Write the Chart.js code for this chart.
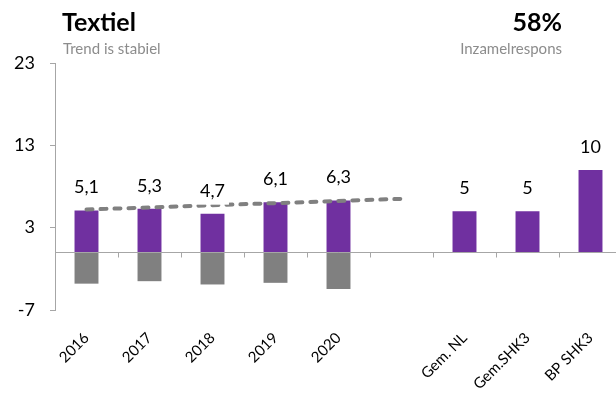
<!DOCTYPE html>
<html lang="nl">
<head>
<meta charset="utf-8">
<title>Textiel</title>
<script src="https://cdn.jsdelivr.net/npm/chart.js@4.4.1/dist/chart.umd.min.js"></script>
<style>
  html, body { margin: 0; padding: 0; overflow: hidden; background: #fff; }
  #wrap { position: relative; width: 640px; height: 400px; }
  .txt { position: absolute; font-family: Lato, "Noto Sans", sans-serif; white-space: nowrap; }
  .big { font-size: 25px; line-height: 25px; font-weight: bold; color: #000; }
  .small { font-size: 15px; line-height: 15px; color: #8c8c8c; }
  .right { left: 0; width: 562px; text-align: right; }
</style>
</head>
<body>
<div id="wrap">
  <canvas id="chart"></canvas>
  <div class="txt big" style="left:62px;top:9px">Textiel</div>
  <div class="txt small" style="left:63px;top:41px">Trend is stabiel</div>
  <div class="txt big right" style="top:9px">58%</div>
  <div class="txt small right" style="top:41px">Inzamelrespons</div>
</div>
<script>
(function (global) {
  'use strict';

  // categorieën en waarden
  var CATEGORIES = ['2016', '2017', '2018', '2019', '2020', '', 'Gem. NL', 'Gem.SHK3', 'BP SHK3'];
  var SCORES = [5.1, 5.3, 4.7, 6.1, 6.3, null, 5, 5, 10];
  var NEGATIVES = [-3.8, -3.5, -3.9, -3.7, -4.45, null, null, null, null];
  var TREND = [5.2, null, null, null, null, 6.5, null, null, null];
  var Y_TICKS = [-7, 3, 13, 23];

  var PURPLE = '#7030a0';
  var GREY = '#808080';
  var AXIS = '#a6a6a6';
  var FONT = 'Lato, "Noto Sans", sans-serif';

  function fmtValue(v) {
    return String(v).replace('.', ',');
  }

  // nullijn met streepjes tussen de categorieën
  var zeroLine = {
    id: 'zeroLine',
    afterDatasetsDraw: function (chart) {
      var ctx = chart.ctx;
      var xs = chart.scales.x;
      var ys = chart.scales.y;
      var area = chart.chartArea;
      var y0 = Math.round(ys.getPixelForValue(0)) + 0.5;
      ctx.save();
      ctx.strokeStyle = AXIS;
      ctx.lineWidth = 1;
      ctx.beginPath();
      ctx.moveTo(area.left, y0);
      ctx.lineTo(area.right, y0);
      for (var i = 1; i < CATEGORIES.length; i++) {
        var x = Math.round((xs.getPixelForValue(i - 1) + xs.getPixelForValue(i)) / 2) + 0.5;
        ctx.moveTo(x, y0);
        ctx.lineTo(x, y0 + 5);
      }
      ctx.stroke();
      ctx.restore();
    }
  };

  // waardelabels boven de paarse staven
  var valueLabels = {
    id: 'valueLabels',
    afterDatasetsDraw: function (chart) {
      var ctx = chart.ctx;
      var meta = chart.getDatasetMeta(0);
      ctx.save();
      ctx.font = '18px ' + FONT;
      ctx.textAlign = 'center';
      ctx.textBaseline = 'alphabetic';
      meta.data.forEach(function (el, i) {
        var v = SCORES[i];
        if (v === null || v === undefined) return;
        var text = fmtValue(v);
        var base = el.y - 17;
        var w = ctx.measureText(text).width;
        ctx.fillStyle = '#fff';
        ctx.fillRect(el.x - w / 2 - 4, base - 18, w + 8, 26);
        ctx.fillStyle = '#000';
        ctx.fillText(text, el.x, base);
      });
      ctx.restore();
    }
  };

  var canvas = document.getElementById('chart');
  new Chart(canvas.getContext('2d'), {
    data: {
      labels: CATEGORIES,
      datasets: [
        {
          type: 'bar',
          data: SCORES,
          backgroundColor: PURPLE,
          barPercentage: 0.38,
          categoryPercentage: 1,
          order: 2
        },
        {
          type: 'bar',
          data: NEGATIVES,
          backgroundColor: GREY,
          barPercentage: 0.38,
          categoryPercentage: 1,
          order: 3
        },
        {
          type: 'line',
          data: TREND,
          borderColor: GREY,
          borderWidth: 4,
          borderDash: [6, 8],
          borderCapStyle: 'round',
          spanGaps: true,
          pointRadius: 0,
          fill: false,
          order: 1
        }
      ]
    },
    options: {
      responsive: true,
      maintainAspectRatio: false,
      animation: false,
      events: [],
      layout: { padding: { top: 63, right: 18, bottom: 0, left: 0 } },
      plugins: { legend: { display: false }, tooltip: { enabled: false } },
      scales: {
        x: {
          stacked: true,
          grid: { display: false },
          border: { display: false },
          ticks: {
            autoSkip: false,
            minRotation: 45,
            maxRotation: 45,
            padding: 11,
            color: '#000',
            font: { family: FONT, size: 15 }
          },
          afterFit: function (scale) { scale.height = 90; }
        },
        y: {
          min: Y_TICKS[0],
          max: Y_TICKS[Y_TICKS.length - 1],
          grid: { display: true, drawOnChartArea: false, drawTicks: true, tickLength: 5, color: AXIS },
          border: { display: true, color: AXIS },
          ticks: {
            padding: 15,
            color: '#000',
            font: { family: FONT, size: 18 }
          },
          afterBuildTicks: function (scale) {
            scale.ticks = Y_TICKS.map(function (v) { return { value: v }; });
          },
          afterFit: function (scale) { scale.width = 55; }
        }
      }
    },
    plugins: [zeroLine, valueLabels]
  });
})(window);
</script>
</body>
</html>
